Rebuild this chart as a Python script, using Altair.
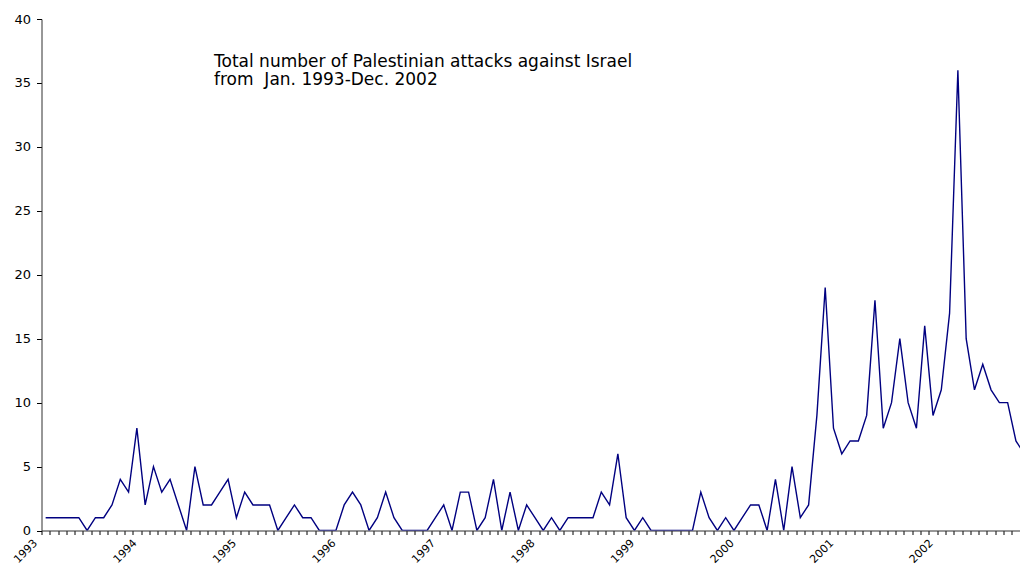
import altair as alt
import pandas as pd

years = [1993, 1994, 1995, 1996, 1997, 1998, 1999, 2000, 2001, 2002]

# Monthly number of attacks, Jan..Dec of each year
attacks_1993 = [1, 1, 1, 1, 1, 0, 1, 1, 2, 4, 3, 8]
attacks_1994 = [2, 5, 3, 4, 2, 0, 5, 2, 2, 3, 4, 1]
attacks_1995 = [3, 2, 2, 2, 0, 1, 2, 1, 1, 0, 0, 0]
attacks_1996 = [2, 3, 2, 0, 1, 3, 1, 0, 0, 0, 0, 1]
attacks_1997 = [2, 0, 3, 3, 0, 1, 4, 0, 3, 0, 2, 1]
attacks_1998 = [0, 1, 0, 1, 1, 1, 1, 3, 2, 6, 1, 0]
attacks_1999 = [1, 0, 0, 0, 0, 0, 0, 3, 1, 0, 1, 0]
attacks_2000 = [1, 2, 2, 0, 4, 0, 5, 1, 2, 9, 19, 8]
attacks_2001 = [6, 7, 7, 9, 18, 8, 10, 15, 10, 8, 16, 9]
attacks_2002 = [11, 17, 36, 15, 11, 13, 11, 10, 10, 7, 6, 6]

y_ticks = [0, 5, 10, 15, 20, 25, 30, 35, 40]
title_lines = ["Total number of Palestinian attacks against Israel",
               "from \u00a0Jan. 1993-Dec. 2002"]

values = (attacks_1993 + attacks_1994 + attacks_1995 + attacks_1996 + attacks_1997
          + attacks_1998 + attacks_1999 + attacks_2000 + attacks_2001 + attacks_2002)
df = pd.DataFrame({"month": list(range(len(values))), "attacks": values})

n = len(values)
tick_values = [i - 0.5 for i in range(n + 1)]
js_years = "[" + ",".join("'%d'" % y for y in years) + "]"
label_expr = ("((datum.value + 0.5) % 12 == 0) ? " + js_years +
              "[(datum.value + 0.5) / 12] : ''")

FONT = "DejaVu Sans"

x_axis = alt.Axis(
    values=tick_values, labelExpr=label_expr, title=None, grid=False,
    tickSize=4, tickColor="black", domainColor="#303030", domainWidth=1,
    labelAngle=-45, labelOffset=-10.4, labelPadding=2.5,
    labelOverlap=False, labelFlush=False, labelBound=False,
    labelFont=FONT, labelFontSize=11, labelColor="black",
)
y_axis = alt.Axis(
    values=y_ticks, title=None, grid=False,
    tickSize=5, tickColor="black", domainColor="#303030", domainWidth=1,
    labelPadding=6, labelFont=FONT, labelFontSize=13, labelColor="black",
)

chart = (
    alt.Chart(df)
    .mark_line(color="#000080", strokeWidth=1.4, clip=True)
    .encode(
        x=alt.X("month:Q", axis=x_axis,
                scale=alt.Scale(domain=[-0.5, 117.49], nice=False, zero=False)),
        y=alt.Y("attacks:Q", axis=y_axis,
                scale=alt.Scale(domain=[0, 40], nice=False)),
    )
    .properties(
        width=978.5, height=511.5,
        background="white",
        autosize=alt.AutoSizeParams(type="none"),
        padding={"left": 33.5, "top": 11, "right": 0, "bottom": 35.5},
        title=alt.TitleParams(
            text=title_lines, anchor="start", orient="top", frame="group",
            dx=172.5, dy=79.5, font=FONT, fontSize=17, fontWeight="normal",
            color="black", lineHeight=18,
        ),
    )
    .configure_view(strokeWidth=0, stroke="transparent")
)

chart.save("out.html", embed_options={"renderer": "svg", "actions": False})
